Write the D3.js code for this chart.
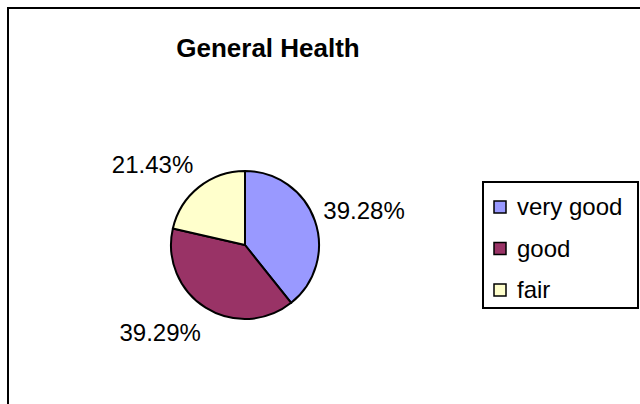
<!DOCTYPE html>
<html>
<head>
<meta charset="utf-8">
<script src="https://cdn.jsdelivr.net/npm/d3@7"></script>
<style>
  body { margin: 0; background: #fff; }
  text { font-family: "Liberation Sans", Arial, sans-serif; }
</style>
</head>
<body>
<svg id="chart" width="640" height="404"></svg>
<script>
// data
var categories = ["very good", "good", "fair"];
var values = [39.28, 39.29, 21.43];
var labels = ["39.28%", "39.29%", "21.43%"];
var colors = ["#9999ff", "#993366", "#ffffcc"];

var svg = d3.select("#chart");
var cx = 245, cy = 245, radius = 74;

// outer chart frame, runs off the right and bottom edge
svg.append("rect")
    .attr("x", 8).attr("y", 8)
    .attr("width", 700).attr("height", 500)
    .attr("fill", "#fff")
    .attr("stroke", "#000").attr("stroke-width", 2);

svg.append("text")
    .attr("x", 268).attr("y", 57)
    .attr("text-anchor", "middle")
    .attr("font-size", "26px").attr("font-weight", "bold")
    .text("General Health");

var data = categories.map(function (c, i) {
    return {name: c, value: values[i], label: labels[i], color: colors[i]};
});

var pie = d3.pie().sort(null).value(function (d) { return d.value; });
var arc = d3.arc().innerRadius(0).outerRadius(radius);
var arcs = pie(data);

var g = svg.append("g").attr("transform", "translate(" + cx + "," + cy + ")");

g.selectAll(".slice").data(arcs).enter().append("path")
    .attr("class", "slice")
    .attr("d", arc)
    .attr("fill", function (d) { return d.data.color; })
    .attr("stroke", "#000").attr("stroke-width", 2)
    .attr("stroke-linejoin", "round");

// labels sit just outside the slice, pushed away along the mid angle
var labelR = 83, push = 20;
function mid(d) { return (d.startAngle + d.endAngle) / 2; }
g.selectAll(".plabel").data(arcs).enter().append("text")
    .attr("class", "plabel")
    .attr("font-size", "24px")
    .attr("x", function (d) { return Math.sin(mid(d)) * labelR; })
    .attr("y", function (d) { return -Math.cos(mid(d)) * (labelR + push); })
    .attr("dy", "0.35em")
    .attr("text-anchor", function (d) { return Math.sin(mid(d)) > 0 ? "start" : "end"; })
    .text(function (d) { return d.data.label; });

// legend
var legend = svg.append("g").attr("transform", "translate(483,182)");
legend.append("rect")
    .attr("width", 155).attr("height", 126)
    .attr("fill", "#fff")
    .attr("stroke", "#000").attr("stroke-width", 2);

var rowY = d3.scalePoint().domain(categories).range([25, 108]);

var items = legend.selectAll(".item").data(data).enter().append("g")
    .attr("class", "item")
    .attr("transform", function (d) { return "translate(0," + rowY(d.name) + ")"; });
items.append("rect")
    .attr("x", 11).attr("y", -6)
    .attr("width", 12).attr("height", 12)
    .attr("fill", function (d) { return d.color; })
    .attr("stroke", "#000").attr("stroke-width", 1.5);
items.append("text")
    .attr("x", 34).attr("dy", "0.35em")
    .attr("font-size", "24px")
    .text(function (d) { return d.name; });
</script>
</body>
</html>
